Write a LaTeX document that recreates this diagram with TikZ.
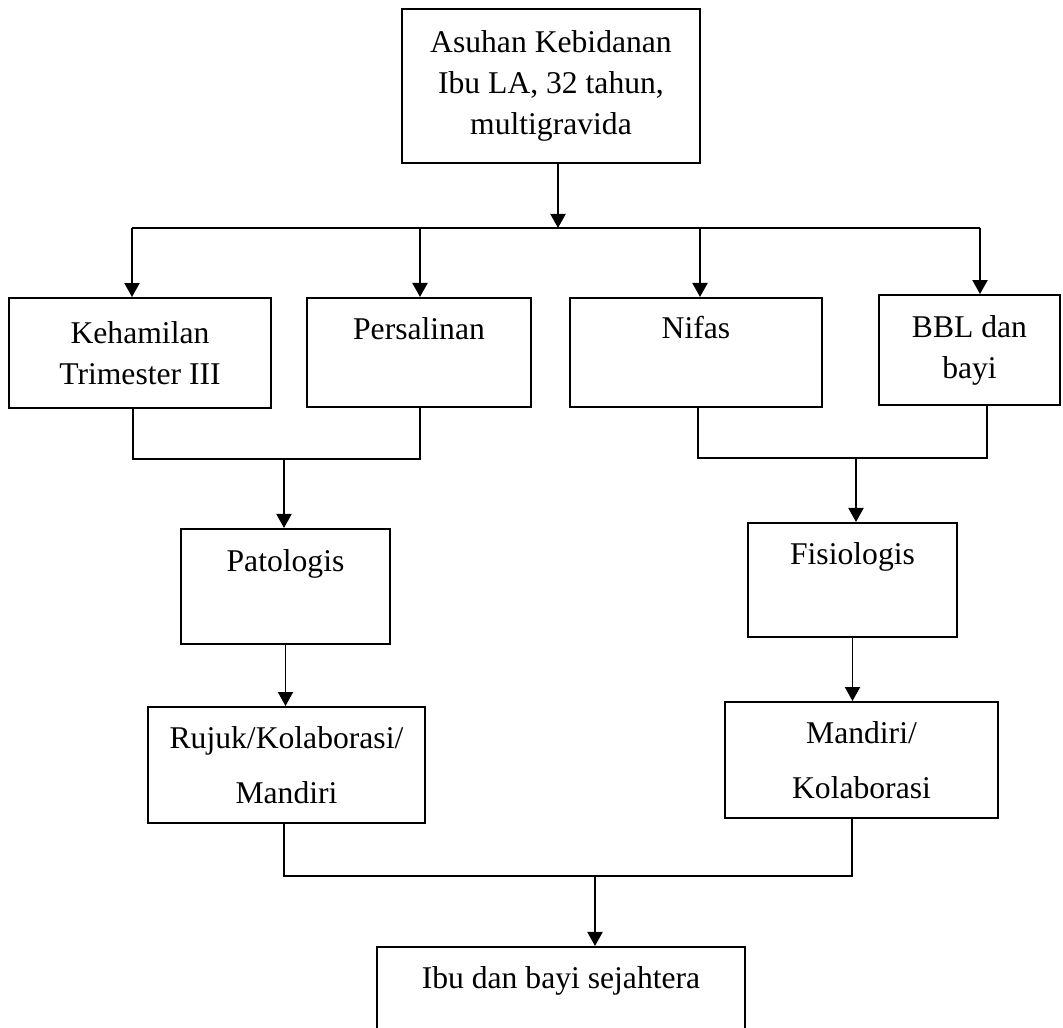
\documentclass[tikz,border=0pt]{standalone}
\usepackage{fontspec}
\setmainfont{Liberation Serif}
\usetikzlibrary{arrows.meta,positioning}

\begin{document}
\begin{tikzpicture}[kotak/.style={draw,line width=1.1pt,inner sep=0pt,font=\fontsize{18}{23.3}\selectfont},
                    garis/.style={line width=1.1pt},
                    panah/.style={garis,->,>={Triangle[width=0.3cm,length=0.28cm]}}]
	\useasboundingbox (0,0) rectangle (21.26,-20.56);

	% kotak utama
	\node[kotak,align=center,minimum width=5.96cm,minimum height=3.08cm] (asuhan) at (11.02,-1.72) {Asuhan Kebidanan\\Ibu LA, 32 tahun,\\multigravida};

	% baris kedua
	\node[kotak,align=center,minimum width=5.24cm,minimum height=2.2cm] (hamil) at (2.80,-7.06) {Kehamilan\\Trimester III};
	\node[kotak,minimum width=4.48cm,text height=0.83cm,text depth=1.35cm,anchor=north] (salin) at (8.38,-5.94) {Persalinan};
	\node[kotak,minimum width=5.04cm,text height=0.81cm,text depth=1.37cm,anchor=north] (nifas) at (13.92,-5.94) {Nifas};
	\node[kotak,align=center,minimum width=3.62cm,minimum height=2.2cm] (bbl) at (19.39,-7.00) {BBL dan\\bayi};

	% baris ketiga
	\node[kotak,minimum width=4.18cm,text height=0.85cm,text depth=1.45cm,anchor=north] (pato) at (5.71,-10.56) {Patologis};
	\node[kotak,minimum width=4.18cm,text height=0.83cm,text depth=1.45cm,anchor=north] (fisio) at (17.05,-10.44) {Fisiologis};

	% baris keempat
	\node[kotak,align=center,font=\fontsize{18}{31.3}\selectfont,minimum width=5.54cm,minimum height=2.32cm] (rujuk) at (5.73,-15.30) {Rujuk/Kolaborasi/\\Mandiri};
	\node[kotak,align=center,font=\fontsize{18}{31.3}\selectfont,minimum width=5.46cm,minimum height=2.32cm] (mandiri) at (17.23,-15.20) {Mandiri/\\Kolaborasi};

	% kotak akhir
	\node[kotak,minimum width=7.36cm,text height=0.83cm,text depth=1.65cm,anchor=north] (sejahtera) at (11.22,-18.92) {Ibu dan bayi sejahtera};

	% titik cabang
	\coordinate (j0) at (11.16,-4.56);
	\coordinate (tK) at (2.64,-4.56);
	\coordinate (tP) at (8.40,-4.56);
	\coordinate (tN) at (14.00,-4.56);
	\coordinate (tB) at (19.60,-4.56);
	\coordinate (lK) at (2.66,-9.18);
	\coordinate (lP) at (8.40,-9.18);
	\coordinate (jL) at (5.68,-9.18);
	\coordinate (lN) at (13.96,-9.16);
	\coordinate (lB) at (19.74,-9.16);
	\coordinate (jR) at (17.12,-9.16);
	\coordinate (lR) at (5.68,-17.52);
	\coordinate (lM) at (17.04,-17.52);
	\coordinate (jB) at (11.90,-17.52);

	\draw[panah] (asuhan.south -| j0) -- (j0);
	\draw[garis] (tK) -- (tB);
	\foreach \t/\k in {tK/hamil,tP/salin,tN/nifas,tB/bbl}
		\draw[panah] (\t) -- (\t |- \k.north);

	\draw[garis] (lK |- hamil.south) -- (lK) -- (lP) -- (lP |- salin.south);
	\draw[garis] (lN |- nifas.south) -- (lN) -- (lB) -- (lB |- bbl.south);
	\draw[panah] (jL) -- (jL |- pato.north);
	\draw[panah] (jR) -- (jR |- fisio.north);

	\draw[panah] (pato.south) -- (pato.south |- rujuk.north);
	\draw[panah] (fisio.south) -- (fisio.south |- mandiri.north);

	\draw[garis] (lR |- rujuk.south) -- (lR) -- (lM) -- (lM |- mandiri.south);
	\draw[panah] (jB) -- (jB |- sejahtera.north);
\end{tikzpicture}
\end{document}
